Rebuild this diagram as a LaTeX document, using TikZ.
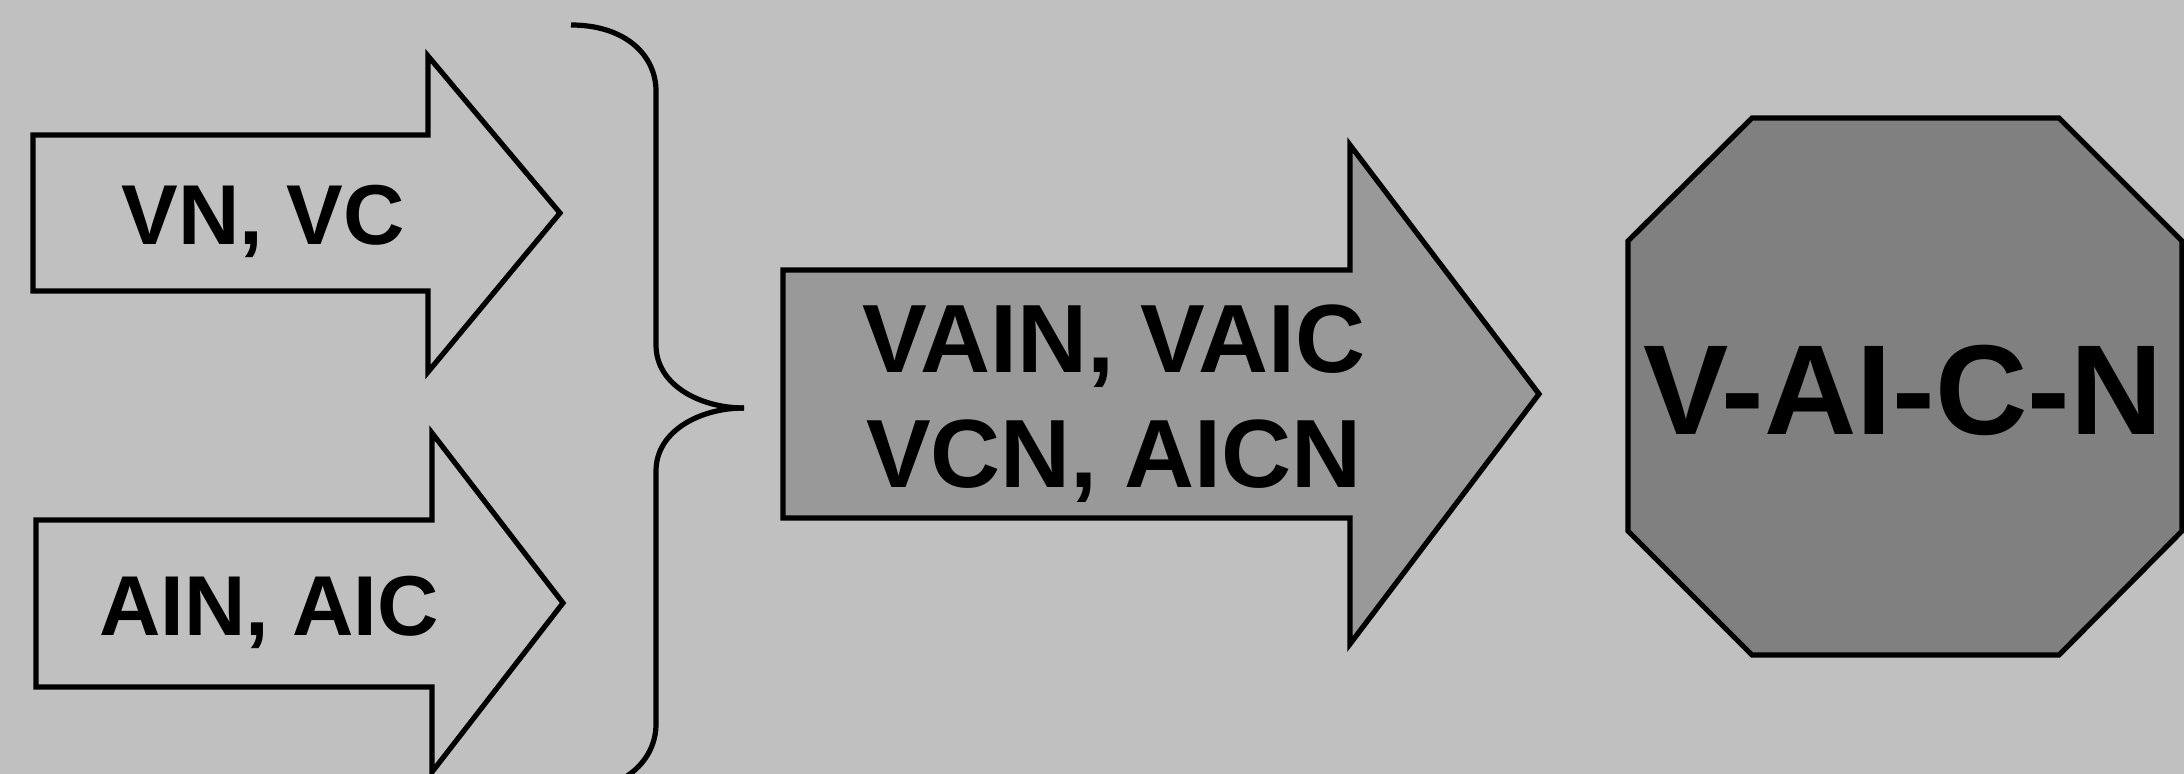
\documentclass[tikz,border=0pt]{standalone}
\usepackage{fontspec}
\setmainfont{Liberation Sans}
\definecolor{bg}{HTML}{C0C0C0}
\definecolor{midgray}{HTML}{999999}
\definecolor{darkgray}{HTML}{808080}
\begin{document}
\begin{tikzpicture}[x=0.5pt,y=-0.5pt,
  shapeline/.style={draw=black,line width=2.6pt,line join=miter},
  lbl/.style={anchor=base,inner sep=0pt,font=\bfseries},
]
\fill[bg] (0,0) rectangle (2184,774);
\useasboundingbox (0,0) rectangle (2184,774);
\clip (0,0) rectangle (2184,774);
% top arrow
\draw[shapeline,fill=bg] (33,135) -- (428,135) -- (428,56) -- (560,213) -- (428,372) -- (428,291) -- (33,291) -- cycle;
\node[lbl,font=\bfseries\fontsize{42.5}{51}\selectfont] (t1) at (263,245) {VN, VC};
% bottom arrow
\draw[shapeline,fill=bg] (36,520) -- (432,520) -- (432,433) -- (563,603) -- (432,772) -- (432,687) -- (36,687) -- cycle;
\node[lbl,font=\bfseries\fontsize{42.5}{51}\selectfont] (t2) at (269,635) {AIN, AIC};
% brace
\draw[line width=2.6pt] (571,25) .. controls (625,25) and (656,55) .. (656,91) -- (656,345)
  .. controls (656,385) and (700,408) .. (744,408);
\draw[line width=2.6pt] (744,408) .. controls (700,408) and (656,431) .. (656,471) -- (656,724)
  .. controls (656,760) and (625,791) .. (571,791);
% middle arrow
\draw[shapeline,fill=midgray] (783,270) -- (1350,270) -- (1350,145) -- (1539,394) -- (1350,644) -- (1350,518) -- (783,518) -- cycle;
\node[lbl,font=\bfseries\fontsize{48.5}{58}\selectfont] (m1) at (1114,373) {VAIN, VAIC};
\node[lbl,font=\bfseries\fontsize{48.5}{58}\selectfont] (m2) at (1114,488) {VCN, AICN};
% octagon
\draw[shapeline,fill=darkgray] (1752,118) -- (2059,118) -- (2182,241) -- (2182,531) -- (2059,655) -- (1752,655) -- (1628,531) -- (1628,241) -- cycle;
\node[lbl,font=\bfseries\fontsize{64}{76}\selectfont] (o) at (1903,435) {V-AI-C-N};
\end{tikzpicture}
\end{document}
